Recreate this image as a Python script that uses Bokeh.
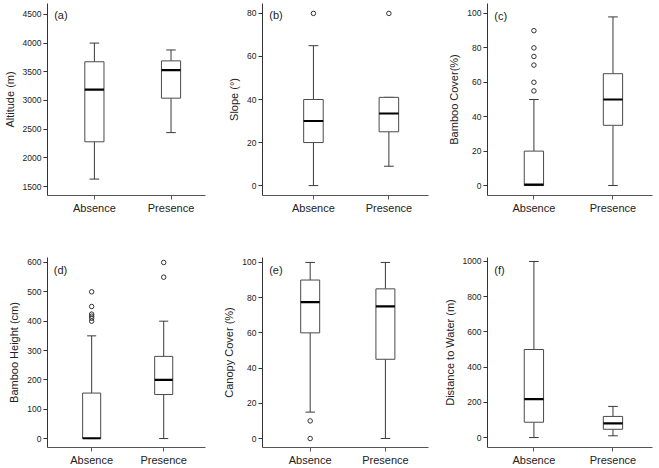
from bokeh.plotting import figure
from bokeh.layouts import gridplot
from bokeh.models import FixedTicker, Range1d, Label
from bokeh.embed import file_html
from bokeh.resources import INLINE

categories = ["Absence", "Presence"]

# (a) Altitude
alt_low = [1630, 2440]
alt_q1 = [2280, 3040]
alt_med = [3190, 3530]
alt_q3 = [3675, 3690]
alt_high = [4000, 3880]
alt_out = [[], []]

# (b) Slope
slope_low = [0, 9]
slope_q1 = [20, 25]
slope_med = [30, 33.5]
slope_q3 = [40, 41]
slope_high = [65, 41]
slope_out = [[80], [80]]

# (c) Bamboo cover
bcov_low = [0, 0]
bcov_q1 = [0, 35]
bcov_med = [0.5, 50]
bcov_q3 = [20, 65]
bcov_high = [50, 98]
bcov_out = [[55, 60, 70, 75, 80, 90], []]

# (d) Bamboo height
bh_low = [0, 0]
bh_q1 = [0, 150]
bh_med = [1, 200]
bh_q3 = [155, 280]
bh_high = [350, 400]
bh_out = [[400, 410, 417, 424, 450, 500], [550, 600]]

# (e) Canopy cover
can_low = [15, 0]
can_q1 = [60, 45]
can_med = [77.5, 75]
can_q3 = [90, 85]
can_high = [100, 100]
can_out = [[10, 0], []]

# (f) Distance to water
wat_low = [0, 10]
wat_q1 = [87, 47]
wat_med = [218, 81]
wat_q3 = [500, 120]
wat_high = [1000, 177]
wat_out = [[], []]

FONT = "Liberation Sans"
H = 234

panels = [
    dict(tag="(a)", ylabel="Altitude (m)", d=(alt_low, alt_q1, alt_med, alt_q3, alt_high, alt_out),
         yr=(1344, 4690), ticks=[1500, 2000, 2500, 3000, 3500, 4000, 4500], xr=(0.388, 2.45),
         w=220, b=(40, 15, 3, 38)),
    dict(tag="(b)", ylabel="Slope (°)", d=(slope_low, slope_q1, slope_med, slope_q3, slope_high, slope_out),
         yr=(-4.6, 84.6), ticks=[0, 20, 40, 60, 80], xr=(0.325, 2.525),
         w=220, b=(32, 12, 3, 38)),
    dict(tag="(c)", ylabel="Bamboo Cover(%)", d=(bcov_low, bcov_q1, bcov_med, bcov_q3, bcov_high, bcov_out),
         yr=(-5.8, 105.8), ticks=[0, 20, 40, 60, 80, 100], xr=(0.413, 2.50),
         w=219, b=(41, 7, 3, 39)),
    dict(tag="(d)", ylabel="Bamboo Height (cm)", d=(bh_low, bh_q1, bh_med, bh_q3, bh_high, bh_out),
         yr=(-30.5, 617), ticks=[0, 100, 200, 300, 400, 500, 600], xr=(0.387, 2.58),
         w=220, b=(40, 5, 23, 20)),
    dict(tag="(e)", ylabel="Canopy Cover (%)", d=(can_low, can_q1, can_med, can_q3, can_high, can_out),
         yr=(-5.1, 102.8), ticks=[0, 20, 40, 60, 80, 100], xr=(0.366, 2.573),
         w=220, b=(32, 7, 23, 20)),
    dict(tag="(f)", ylabel="Distance to Water (m)", d=(wat_low, wat_q1, wat_med, wat_q3, wat_high, wat_out),
         yr=(-56.5, 1022.6), ticks=[0, 200, 400, 600, 800, 1000], xr=(0.413, 2.50),
         w=219, b=(41, 7, 23, 20)),
]


def make_panel(cfg):
    W = cfg["w"]
    bl, br, bt, bb = cfg["b"]
    xs, xe = cfg["xr"]
    ys, ye = cfg["yr"]
    p = figure(width=W, height=H, output_backend="svg", toolbar_location=None,
               x_range=Range1d(xs, xe), y_range=Range1d(ys, ye),
               min_border_left=bl, min_border_right=br, min_border_top=bt, min_border_bottom=bb)
    p.outline_line_color = None
    p.xgrid.visible = False
    p.ygrid.visible = False
    p.background_fill_color = "white"
    p.border_fill_color = "white"

    frame_w = W - max(bl, 38) - br
    frame_h = H - bt - max(bb, 24)
    pxx = frame_w / (xe - xs)
    pxy = frame_h / (ye - ys)
    box_w = 20 / pxx
    cap_w = 10 / pxx

    low, q1, med, q3, high, outs = cfg["d"]
    pos = [i + 1 for i in range(len(categories))]

    # whiskers
    p.segment(x0=pos, x1=pos, y0=q3, y1=high, line_color="#3a3a3a", line_width=1)
    p.segment(x0=pos, x1=pos, y0=low, y1=q1, line_color="#3a3a3a", line_width=1)
    p.segment(x0=[x - cap_w / 2 for x in pos], x1=[x + cap_w / 2 for x in pos],
              y0=high, y1=high, line_color="#3a3a3a", line_width=1)
    p.segment(x0=[x - cap_w / 2 for x in pos], x1=[x + cap_w / 2 for x in pos],
              y0=low, y1=low, line_color="#3a3a3a", line_width=1)
    # boxes
    p.vbar(x=pos, width=box_w, bottom=q1, top=q3, fill_color="white",
           line_color="#4a4a4a", line_width=1)
    # medians
    p.segment(x0=[x - box_w / 2 for x in pos], x1=[x + box_w / 2 for x in pos],
              y0=med, y1=med, line_color="black", line_width=2.2)
    # outliers
    ox, oy = [], []
    for x, o in zip(pos, outs):
        for v in o:
            ox.append(x)
            oy.append(v)
    if ox:
        p.scatter(ox, oy, marker="circle", size=4.5, fill_color=None,
                  line_color="#333333", line_width=1)

    # axes
    p.xaxis.ticker = FixedTicker(ticks=pos)
    p.xaxis.major_label_overrides = {x: c for x, c in zip(pos, categories)}
    p.xaxis.minor_tick_line_color = None
    p.xaxis.major_tick_in = 0
    p.xaxis.major_tick_out = 4
    p.xaxis.major_label_standoff = 2
    p.xaxis.major_label_text_font = FONT
    p.xaxis.major_label_text_font_size = "11px"
    p.xaxis.major_label_text_color = "#222222"
    p.xaxis.axis_line_color = "#555555"
    p.xaxis.major_tick_line_color = "#555555"

    p.yaxis.ticker = FixedTicker(ticks=cfg["ticks"])
    p.yaxis.minor_tick_line_color = None
    p.yaxis.major_tick_in = 0
    p.yaxis.major_tick_out = 4
    p.yaxis.major_label_standoff = 2
    p.yaxis.major_label_text_font = FONT
    p.yaxis.major_label_text_font_size = "8.5px"
    p.yaxis.major_label_text_color = "#222222"
    p.yaxis.axis_line_color = "#333333"
    p.yaxis.major_tick_line_color = "#333333"
    p.yaxis.axis_label = cfg["ylabel"]
    p.yaxis.axis_label_text_font = FONT
    p.yaxis.axis_label_text_font_size = "11px"
    p.yaxis.axis_label_text_font_style = "normal"
    p.yaxis.axis_label_text_color = "#222222"
    p.yaxis.axis_label_standoff = 4

    lab = Label(x=xs + 7 / pxx, y=ye - 12 / pxy, text=cfg["tag"],
                text_font=FONT, text_font_size="11px", text_color="#222222",
                text_baseline="middle", text_align="left")
    p.add_layout(lab)
    return p


figs = [make_panel(c) for c in panels]
grid = gridplot([figs[:3], figs[3:]], toolbar_location=None)

open("out.html", "w").write(file_html(grid, INLINE))
